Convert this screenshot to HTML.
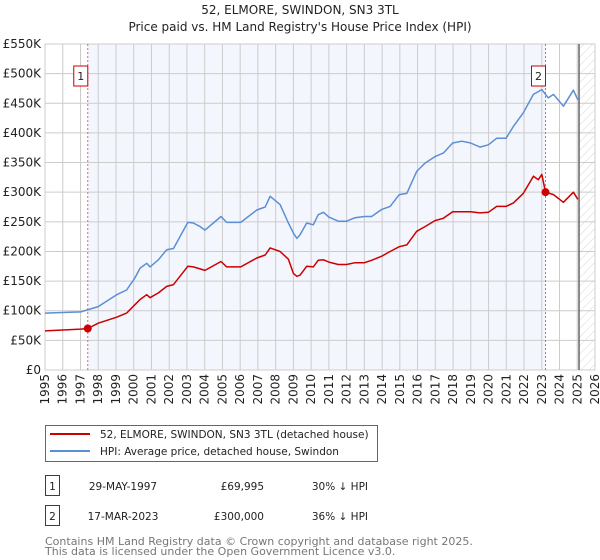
<!DOCTYPE html>
<html><head><meta charset="utf-8"><style>
body{margin:0;background:#fff;font-family:"DejaVu Sans","Liberation Sans",sans-serif;}
svg{display:block}
</style></head><body>
<svg id="c" width="600" height="560" xmlns="http://www.w3.org/2000/svg" font-family="DejaVu Sans, Liberation Sans, sans-serif">
<defs>
<pattern id="hatch" width="6" height="6" patternUnits="userSpaceOnUse" patternTransform="rotate(45)">
<line x1="0" y1="0" x2="0" y2="6" stroke="#ccc" stroke-width="0.8"/>
</pattern>
</defs>
<text x="300" y="14" text-anchor="middle" font-size="12" fill="#222">52, ELMORE, SWINDON, SN3 3TL</text>
<text x="300" y="31" text-anchor="middle" font-size="12" fill="#222">Price paid vs. HM Land Registry's House Price Index (HPI)</text>
<g id="plot"></g>
<g>
<rect x="45.5" y="425.5" width="332" height="36" fill="#fff" stroke="#666" stroke-width="1"/>
<line x1="50" y1="434" x2="90" y2="434" stroke="#cc0000" stroke-width="2"/>
<text x="100" y="438" font-size="10.5" fill="#222">52, ELMORE, SWINDON, SN3 3TL (detached house)</text>
<line x1="50" y1="451" x2="90" y2="451" stroke="#5b8fd4" stroke-width="2"/>
<text x="100" y="455" font-size="10.5" fill="#222">HPI: Average price, detached house, Swindon</text>
</g>
<g font-size="10.5" fill="#222">
<rect x="45.5" y="475.5" width="14" height="20" fill="none" stroke="#cc0000"/>
<text x="52.5" y="490" text-anchor="middle">1</text>
<text x="123" y="490" text-anchor="middle">29-MAY-1997</text>
<text x="264" y="490" text-anchor="end">£69,995</text>
<text x="368" y="490" text-anchor="end">30% ↓ HPI</text>
<rect x="45.5" y="505.5" width="14" height="20" fill="none" stroke="#cc0000"/>
<text x="52.5" y="520" text-anchor="middle">2</text>
<text x="123" y="520" text-anchor="middle">17-MAR-2023</text>
<text x="264" y="520" text-anchor="end">£300,000</text>
<text x="368" y="520" text-anchor="end">36% ↓ HPI</text>
</g>
<text x="45" y="545" font-size="11" fill="#777">Contains HM Land Registry data © Crown copyright and database right 2025.</text>
<text x="45" y="555" font-size="11" fill="#777">This data is licensed under the Open Government Licence v3.0.</text>
</svg>
<script>
const hpiYears=[1995,1997.01,1998.0,1999.04,1999.6,2000.06,2000.36,2000.73,2000.92,2001.39,2001.86,2002.24,2003.05,2003.36,2003.74,2004.02,2004.92,2005.24,2006.03,2006.94,2007.41,2007.69,2008.25,2008.72,2009.0,2009.19,2009.37,2009.75,2010.12,2010.4,2010.69,2011.0,2011.53,2012.0,2012.47,2013.0,2013.41,2013.98,2014.45,2014.97,2015.39,2015.95,2016.42,2016.98,2017.45,2017.98,2018.49,2018.99,2019.52,2019.99,2020.46,2020.99,2021.4,2021.96,2022.53,2023.0,2023.37,2023.66,2024.22,2024.78,2025.03];
const hpiValues=[96,98,107,127,135,155,172,180,174,186,203,205,249,248,242,236,259,249,249,270,275,293,279,248,231,222,228,248,245,262,266,258,251,251,257,259,259,271,276,296,298,335,349,360,366,383,386,383,376,380,391,391,411,434,465,473,459,465,445,472,456];
const ppYears=[1995,1997.01,1997.41,1998.0,1999.04,1999.6,2000.06,2000.36,2000.73,2000.92,2001.39,2001.86,2002.24,2003.05,2003.36,2004.02,2004.92,2005.24,2006.03,2006.94,2007.41,2007.69,2008.25,2008.72,2009.0,2009.19,2009.37,2009.75,2010.12,2010.4,2010.69,2011.0,2011.53,2012.0,2012.47,2013.0,2013.41,2013.98,2014.45,2014.97,2015.39,2015.95,2016.42,2016.98,2017.45,2017.98,2018.49,2018.99,2019.52,2019.99,2020.46,2020.99,2021.4,2021.96,2022.53,2022.81,2023.0,2023.21,2023.66,2024.22,2024.78,2025.03];
const ppValues=[66,69,70,79,89,96,110,119,127,122,130,141,144,175,174,168,183,174,174,189,194,206,200,187,163,158,160,175,174,185,186,182,178,178,181,181,185,192,200,208,211,234,242,252,256,267,267,267,265,266,276,276,282,298,327,321,330,300,296,283,300,288];
const saleYears=[1997.41,2023.21];
const saleValues=[69.995,300];
const saleLabels=["1","2"];
const yTicks=[0,50,100,150,200,250,300,350,400,450,500,550];
const yTickLabels=["£0","£50K","£100K","£150K","£200K","£250K","£300K","£350K","£400K","£450K","£500K","£550K"];
const xTicks=[1995,1996,1997,1998,1999,2000,2001,2002,2003,2004,2005,2006,2007,2008,2009,2010,2011,2012,2013,2014,2015,2016,2017,2018,2019,2020,2021,2022,2023,2024,2025,2026];
const dataEnd=2025.1;

const L=45,R=595,T=44,B=370;
const xs=y=>L+(y-1995)/31*(R-L);
const ys=v=>B-v/550*(B-T);
const NS="http://www.w3.org/2000/svg";
const g=document.getElementById('plot');
function mk(t,a,p){const e=document.createElementNS(NS,t);for(const k in a)e.setAttribute(k,a[k]);(p||g).appendChild(e);return e;}

let bg=mk('rect',{x:L,y:T,width:R-L,height:B-T,fill:'#fff'});


let sh=mk('rect',{x:xs(saleYears[0]),y:T,width:xs(saleYears[1])-xs(saleYears[0]),height:B-T,fill:'#f3f6fd'});


let ht=mk('rect',{x:xs(dataEnd),y:T,width:R-xs(dataEnd),height:B-T,fill:'url(#hatch)'});



yTicks.forEach((v,i)=>{
  const l=mk('line',{x1:L,x2:R,y1:ys(v),y2:ys(v),stroke:'#ccc','stroke-width':1});
  
  
  const t=mk('text',{x:L-4,y:ys(v)+4,'text-anchor':'end','font-size':12,fill:'#222'});
  t.textContent=yTickLabels[i];
  
  
});
xTicks.forEach(y=>{
  const l=mk('line',{x1:xs(y),x2:xs(y),y1:T,y2:B,stroke:'#ccc','stroke-width':1});
  
  
  const x=xs(y)+4,yy=B+4;
  const t=mk('text',{x:x,y:yy,'text-anchor':'end','font-size':12,fill:'#222',transform:`rotate(-90 ${x} ${yy})`});
  t.textContent=y;
  
  
});
let bd=mk('rect',{x:L,y:T,width:R-L,height:B-T,fill:'none',stroke:'#ccc'});


let de=mk('line',{x1:xs(dataEnd),x2:xs(dataEnd),y1:T,y2:B,stroke:'#666','stroke-width':1.5});



saleYears.forEach((y,i)=>{
  const l=mk('line',{x1:xs(y),x2:xs(y),y1:T,y2:B,stroke:'#f06060','stroke-width':1,'stroke-dasharray':'2,2'});
  
  
  const bx=mk('rect',{x:xs(y)-14,y:66,width:14,height:20,fill:'#fff',stroke:'#cc0000'});
  
  
  const t=mk('text',{x:xs(y)-7,y:80,'text-anchor':'middle','font-size':11,fill:'#222'});
  t.textContent=saleLabels[i];
  
  
});

function line(xa,va,col,name){
  const d=xa.map((x,i)=>(i?'L':'M')+xs(x).toFixed(1)+','+ys(va[i]).toFixed(1)).join('');
  const p=mk('path',{d:d,fill:'none',stroke:col,'stroke-width':1.5,'stroke-linejoin':'round'});
  
  
}
line(hpiYears,hpiValues,'#5b8fd4','hpi-line');
line(ppYears,ppValues,'#cc0000','price-paid-line');
saleYears.forEach((y,i)=>{
  const c=mk('circle',{cx:xs(y),cy:ys(saleValues[i]),r:4,fill:'#cc0000'});
  
  
});
</script>
</body></html>
